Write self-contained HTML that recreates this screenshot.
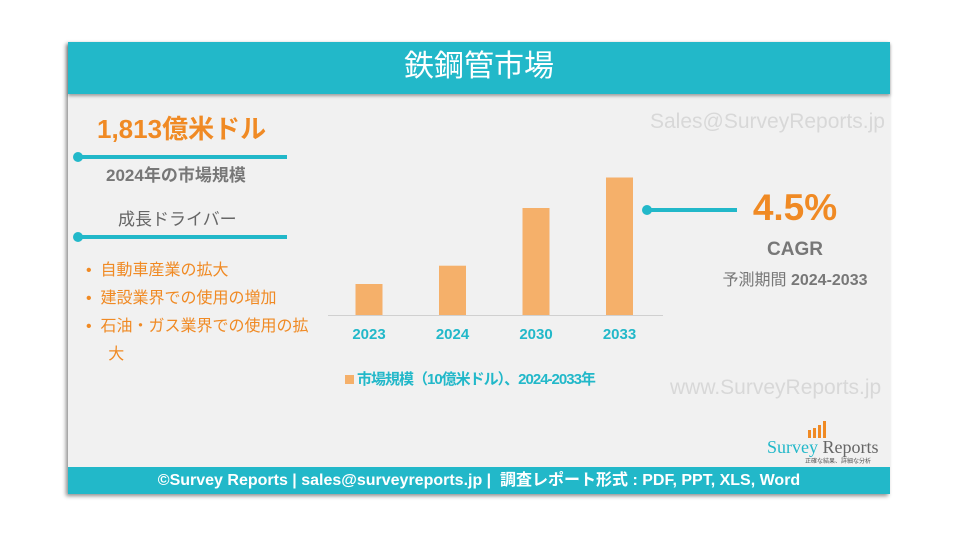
<!DOCTYPE html>
<html><head><meta charset="utf-8">
<style>
body{margin:0;width:960px;height:540px;background:#fff;position:relative;overflow:hidden;font-family:"Liberation Sans","Noto Sans CJK JP",sans-serif}
.abs{position:absolute;white-space:nowrap}
#card{position:absolute;left:68px;top:42px;width:822px;height:452px;background:#f1f1f1;box-shadow:-2px 2px 4px rgba(0,0,0,.45)}
</style></head><body>
<div id="card"></div>
<div class="abs" style="left:68px;top:42px;width:822px;height:52px;background:#22b8c9;box-shadow:0 2px 3px rgba(0,0,0,.35)"></div>
<div class="abs" style="left:68px;width:822px;top:47px;text-align:center;color:#fff;font-size:30px;line-height:40px">鉄鋼管市場</div>

<div class="abs" style="left:97px;top:113px;color:#f08a24;font-weight:bold;font-size:26px;line-height:32px">1,813億米ドル</div>
<div class="abs" style="left:78px;top:155px;width:209px;height:4px;background:#22b8c9"></div>
<div class="abs" style="left:73px;top:152px;width:10px;height:10px;border-radius:50%;background:#22b8c9"></div>
<div class="abs" style="left:106px;top:165px;color:#777;font-weight:bold;font-size:17px;line-height:22px">2024年の市場規模</div>
<div class="abs" style="left:118px;top:208px;color:#666;font-size:17px;line-height:24px">成長ドライバー</div>
<div class="abs" style="left:78px;top:235px;width:209px;height:4px;background:#22b8c9"></div>
<div class="abs" style="left:73px;top:232px;width:10px;height:10px;border-radius:50%;background:#22b8c9"></div>
<div class="abs" style="left:86px;top:257px;color:#f08a24;font-size:16px;line-height:28px">
<div>•&nbsp;&nbsp;自動車産業の拡大</div>
<div>•&nbsp;&nbsp;建設業界での使用の増加</div>
<div>•&nbsp;&nbsp;石油・ガス業界での使用の拡<br>&nbsp;&nbsp;&nbsp;&nbsp;&nbsp;大</div>
</div>

<div class="abs" style="left:650px;top:110px;color:#d8d8d8;font-size:21px;line-height:24px">Sales@SurveyReports.jp</div>
<div class="abs" style="left:670px;top:376px;color:#d8d8d8;font-size:21px;line-height:24px">www.SurveyReports.jp</div>

<svg class="abs" style="left:0;top:0" width="960" height="540">
<line x1="328" y1="315.5" x2="663" y2="315.5" stroke="#d0d0d0" stroke-width="1"/>
<g id="bars"></g>
</svg>
<div class="abs" style="left:345px;top:369px;color:#22b8c9;font-weight:bold;font-size:15px;line-height:22px;letter-spacing:-1px"><span style="display:inline-block;width:9px;height:9px;background:#f5b06a;margin-right:3px"></span>市場規模（10億米ドル）、2024-2033年</div>

<div class="abs" style="left:647px;top:208px;width:90px;height:4px;background:#22b8c9"></div>
<div class="abs" style="left:642px;top:205px;width:10px;height:10px;border-radius:50%;background:#22b8c9"></div>
<div class="abs" style="left:740px;width:110px;text-align:center;top:186px;color:#f08a24;font-weight:bold;font-size:37px;line-height:44px">4.5%</div>
<div class="abs" style="left:740px;width:110px;text-align:center;top:238px;color:#777;font-weight:bold;font-size:19px;line-height:24px">CAGR</div>
<div class="abs" style="left:700px;width:190px;text-align:center;top:270px;color:#777;font-size:16px;line-height:22px">予測期間 <b>2024-2033</b></div>

<svg class="abs" style="left:765px;top:416px" width="125" height="50">
<g fill="#f08a24"><rect x="43" y="14" width="3" height="8"/><rect x="48" y="12" width="3" height="10"/><rect x="53" y="9" width="3" height="13"/><rect x="58" y="5" width="3" height="17"/></g>
<text x="2" y="37" font-family="Liberation Serif,serif" font-size="18" fill="#22b8c9">Survey <tspan fill="#666">Reports</tspan></text>
<text x="40" y="47" font-size="6" fill="#555" font-family="Noto Sans CJK JP,sans-serif">正確な結果、詳細な分析</text>
</svg>

<div class="abs" style="left:68px;top:467px;width:822px;height:27px;background:#22b8c9"></div>
<div class="abs" style="left:68px;width:822px;top:470px;text-align:center;color:#fff;font-weight:bold;font-size:16px;line-height:22px">©Survey Reports | sales@surveyreports.jp |&nbsp; 調査レポート形式 : PDF, PPT, XLS, Word</div>

<script>
const categories=["2023","2024","2030","2033"];
const values=[163,181.3,239,269.5];
const x0=369,xStep=83.5,barW=27,baseY=315,vMin=132,pxPerUnit=1.0;
function xPos(i){return x0+i*xStep;}
function yPos(v){return baseY-(v-vMin)*pxPerUnit;}
const g=document.getElementById('bars');
const ns='http://www.w3.org/2000/svg';
categories.forEach((c,i)=>{
  const r=document.createElementNS(ns,'rect');
  r.setAttribute('x',xPos(i)-barW/2);r.setAttribute('y',yPos(values[i]));
  r.setAttribute('width',barW);r.setAttribute('height',baseY-yPos(values[i]));
  r.setAttribute('fill','#f5b06a');
  
  
  g.appendChild(r);
  const t=document.createElementNS(ns,'text');
  t.setAttribute('x',xPos(i));t.setAttribute('y',339);t.setAttribute('text-anchor','middle');
  t.setAttribute('fill','#22b8c9');t.setAttribute('font-weight','bold');t.setAttribute('font-size','15');
  t.textContent=c;
  
  
  g.appendChild(t);
});
</script>
</body></html>
